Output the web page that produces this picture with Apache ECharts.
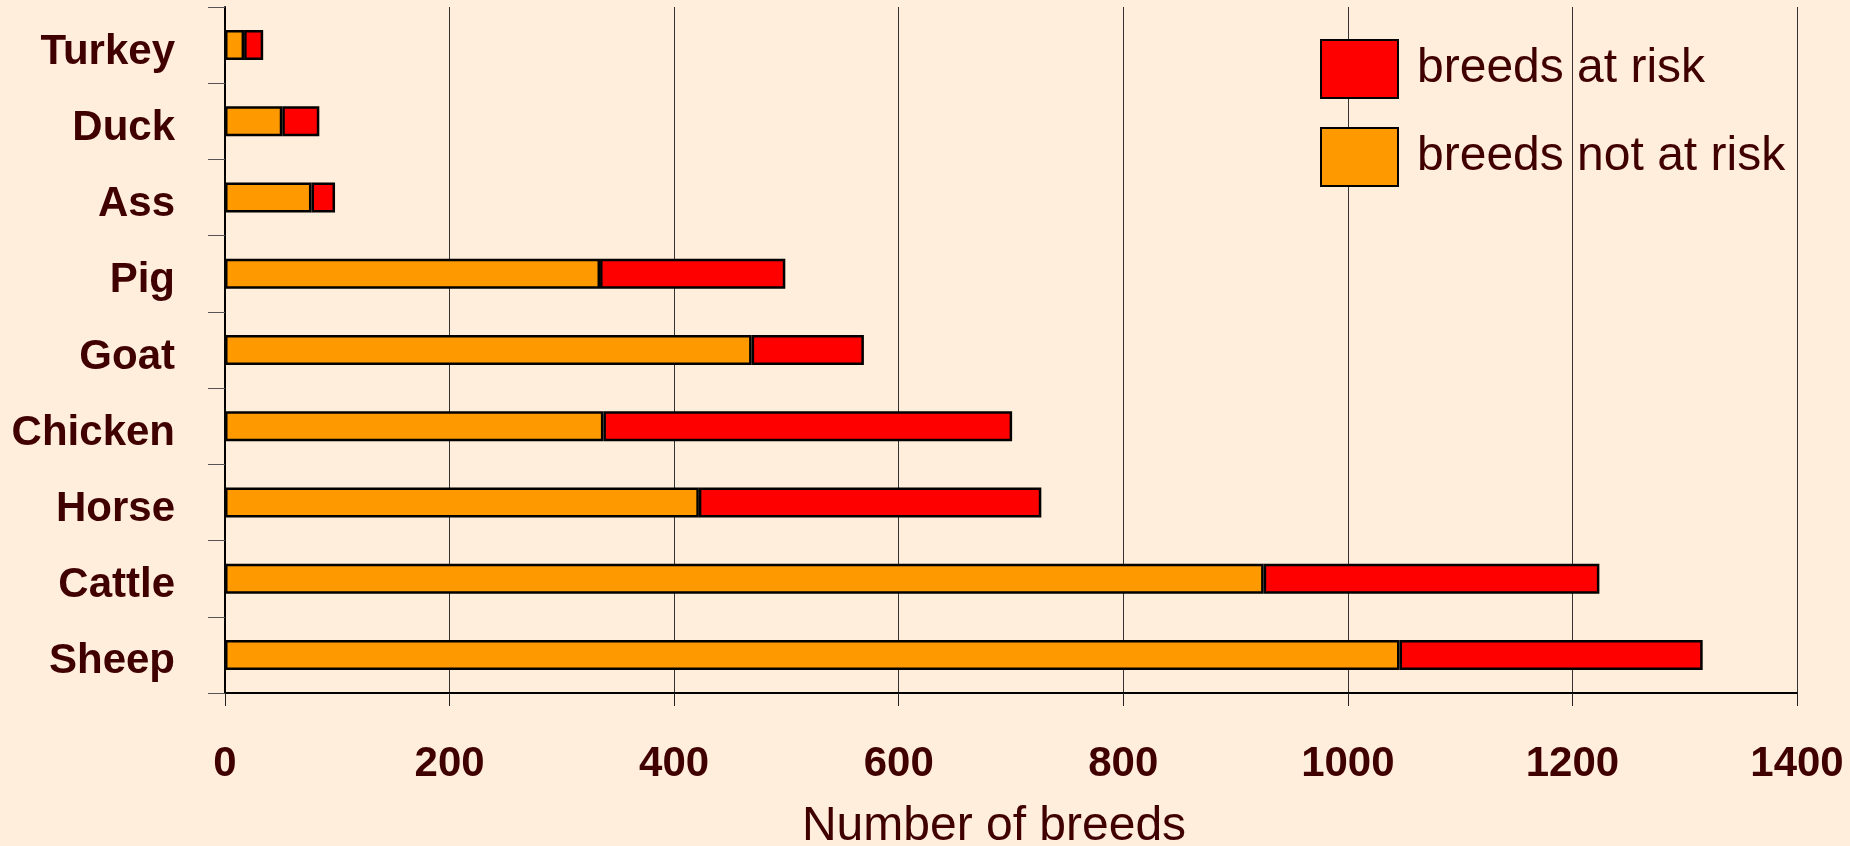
<!DOCTYPE html>
<html>
<head>
<meta charset="utf-8">
<script src="https://cdn.jsdelivr.net/npm/echarts@6/dist/echarts.min.js"></script>
<style>
html,body{margin:0;padding:0;background:#FFEEDB;}
#chart{width:1850px;height:846px;}
</style>
</head>
<body>
<div id="chart"></div>
<script>
// Categories listed top to bottom
var categories = ['Turkey','Duck','Ass','Pig','Goat','Chicken','Horse','Cattle','Sheep'];
var notAtRisk = [17, 51, 77, 334, 469, 337, 422, 925, 1046];
var atRisk    = [17, 33, 21, 165, 100, 364, 305, 299, 270];
var xTicks = [0, 200, 400, 600, 800, 1000, 1200, 1400];

var textColor = '#400000';
var font = '"Liberation Sans", Arial, sans-serif';

var chart = echarts.init(document.getElementById('chart'));
chart.setOption({
  backgroundColor: '#FFEEDB',
  animation: false,
  grid: {left: 225, right: 53, top: 7, bottom: 153, containLabel: false, outerBoundsMode: 'none'},
  legend: {
    data: ['breeds at risk', 'breeds not at risk'],
    orient: 'vertical',
    left: 1315, top: 34,
    itemWidth: 77, itemHeight: 58, itemGap: 28,
    icon: 'rect',
    textStyle: {color: textColor, fontSize: 48, fontFamily: font, padding: [0, 0, 8, 14]}
  },
  xAxis: {
    type: 'value',
    min: xTicks[0], max: xTicks[xTicks.length - 1], interval: 200,
    name: 'Number of breeds',
    nameLocation: 'middle',
    nameGap: 110,
    nameTextStyle: {color: textColor, fontSize: 48, fontFamily: font, padding: [0, 34, 0, 0]},
    axisLine: {show: true, lineStyle: {color: '#000', width: 2}},
    axisTick: {show: true, length: 13, lineStyle: {color: '#222', width: 1}},
    axisLabel: {
      color: textColor, fontSize: 42, fontWeight: 'bold', fontFamily: font, margin: 50,
      formatter: function (v) { return String(v); }
    },
    splitLine: {show: true, lineStyle: {color: '#333', width: 1}}
  },
  yAxis: {
    type: 'category',
    data: categories,
    inverse: true,
    axisLine: {show: true, lineStyle: {color: '#000', width: 2}},
    axisTick: {show: true, length: 17, lineStyle: {color: '#555', width: 1}},
    axisLabel: {
      margin: 50,
      formatter: function (v) { return '{c|' + v + '}'; },
      rich: {c: {color: textColor, fontSize: 42, fontWeight: 'bold', fontFamily: font, lineHeight: 42, padding: [14, 0, 0, 0]}}
    },
    splitLine: {show: false}
  },
  series: [
    {
      name: 'breeds not at risk',
      type: 'bar',
      stack: 'total',
      barWidth: 30,
      data: notAtRisk,
      itemStyle: {color: '#FF9900', borderColor: '#000', borderWidth: 2.5}
    },
    {
      name: 'breeds at risk',
      type: 'bar',
      stack: 'total',
      barWidth: 30,
      data: atRisk,
      itemStyle: {color: '#FF0000', borderColor: '#000', borderWidth: 2.5}
    }
  ]
});
</script>
</body>
</html>
